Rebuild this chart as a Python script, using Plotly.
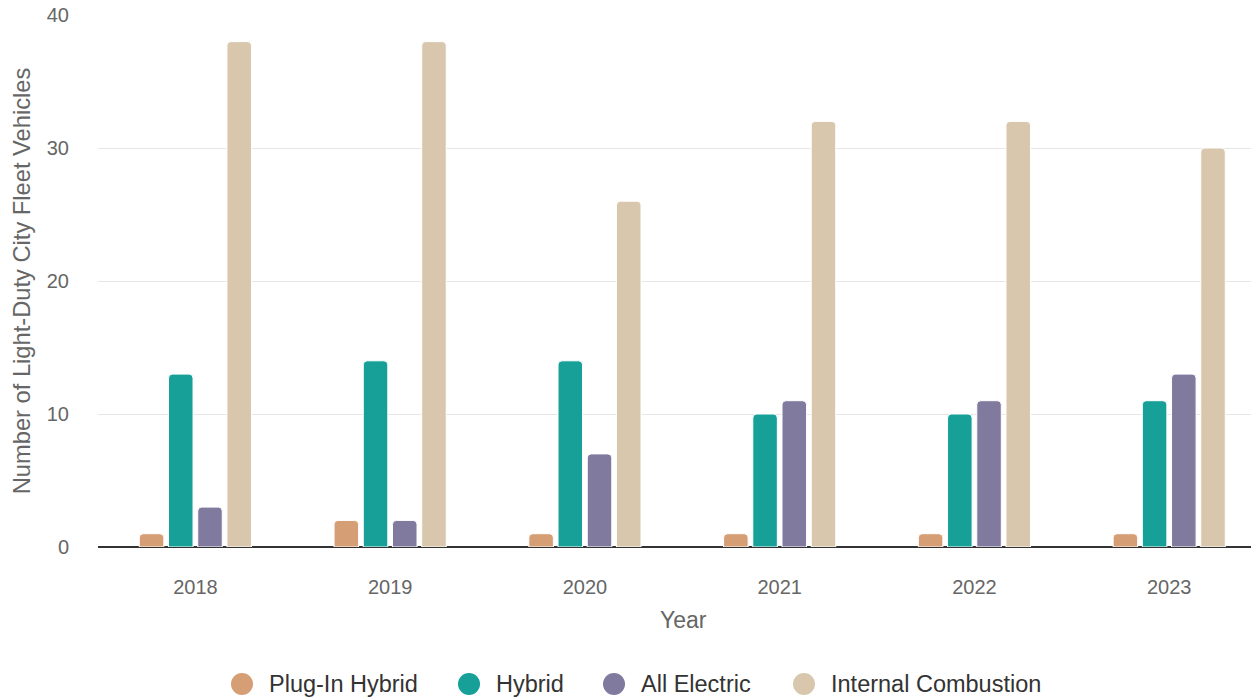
import plotly.graph_objects as go

years = ["2018", "2019", "2020", "2021", "2022", "2023"]
plug_in_hybrid = [1, 2, 1, 1, 1, 1]
hybrid = [13, 14, 14, 10, 10, 11]
all_electric = [3, 2, 7, 11, 11, 13]
internal_combustion = [38, 38, 26, 32, 32, 30]

series_names = ["Plug-In Hybrid", "Hybrid", "All Electric", "Internal Combustion"]
series_values = [plug_in_hybrid, hybrid, all_electric, internal_combustion]
series_colors = ["#D59E75", "#17A098", "#807A9E", "#D8C7AD"]

FONT = "Liberation Sans, Arial, sans-serif"
W, H = 1251, 699
ML, MR, MT, MB = 98, 0, 15, 152
PW, PH = W - ML - MR, H - MT - MB

fig = go.Figure()
for name, vals, color in zip(series_names, series_values, series_colors):
    fig.add_trace(go.Bar(
        x=years, y=vals, name=name,
        marker=dict(color=color, line=dict(color="white", width=1), cornerradius=4),
    ))

# Legend row drawn by hand: circle swatch + label under the plot
legend_circle_px = [242, 469, 614, 804]
legend_y_px = 684
ly = (MT + PH - legend_y_px) / PH
for name, color, cx in zip(series_names, series_colors, legend_circle_px):
    xa = (cx - ML) / PW
    fig.add_shape(
        type="circle", xref="paper", yref="paper",
        xsizemode="pixel", ysizemode="pixel", xanchor=xa, yanchor=ly,
        x0=-11, x1=11, y0=-11, y1=11,
        fillcolor=color, line=dict(width=0), layer="above",
    )
    fig.add_annotation(
        text=name, xref="paper", yref="paper",
        x=(cx + 25 - ML) / PW, y=ly, xanchor="left", yanchor="middle",
        showarrow=False, font=dict(size=23.5, color="#333333", family=FONT),
    )

# x-axis title
fig.add_annotation(
    text="Year", xref="paper", yref="paper",
    x=(683 - ML) / PW, y=(MT + PH - 620) / PH, xanchor="center", yanchor="middle",
    showarrow=False, font=dict(size=23, color="#666666", family=FONT),
)

fig.update_layout(
    width=W, height=H,
    margin=dict(l=ML, r=MR, t=MT, b=MB),
    paper_bgcolor="white", plot_bgcolor="white",
    barmode="group", bargap=0.4, bargroupgap=0.16,
    font=dict(family=FONT, color="#666666", size=20),
    showlegend=False,
)
fig.update_xaxes(
    tickfont=dict(size=20, color="#666666"),
    range=[-0.5, 5.42],
    ticks="outside", ticklen=22, tickcolor="rgba(0,0,0,0)",
    showgrid=False, showline=False, automargin=False,
)
fig.update_yaxes(
    title=dict(text="Number of Light-Duty City Fleet Vehicles", font=dict(size=23.7, color="#666666"), standoff=9),
    range=[0, 40], dtick=10,
    tickfont=dict(size=20, color="#666666"),
    ticks="outside", ticklen=24, tickcolor="rgba(0,0,0,0)",
    showgrid=True, gridcolor="#e6e6e6", gridwidth=1,
    zeroline=True, zerolinecolor="#333333", zerolinewidth=2,
    automargin=False,
)

fig.write_html("out.html")
